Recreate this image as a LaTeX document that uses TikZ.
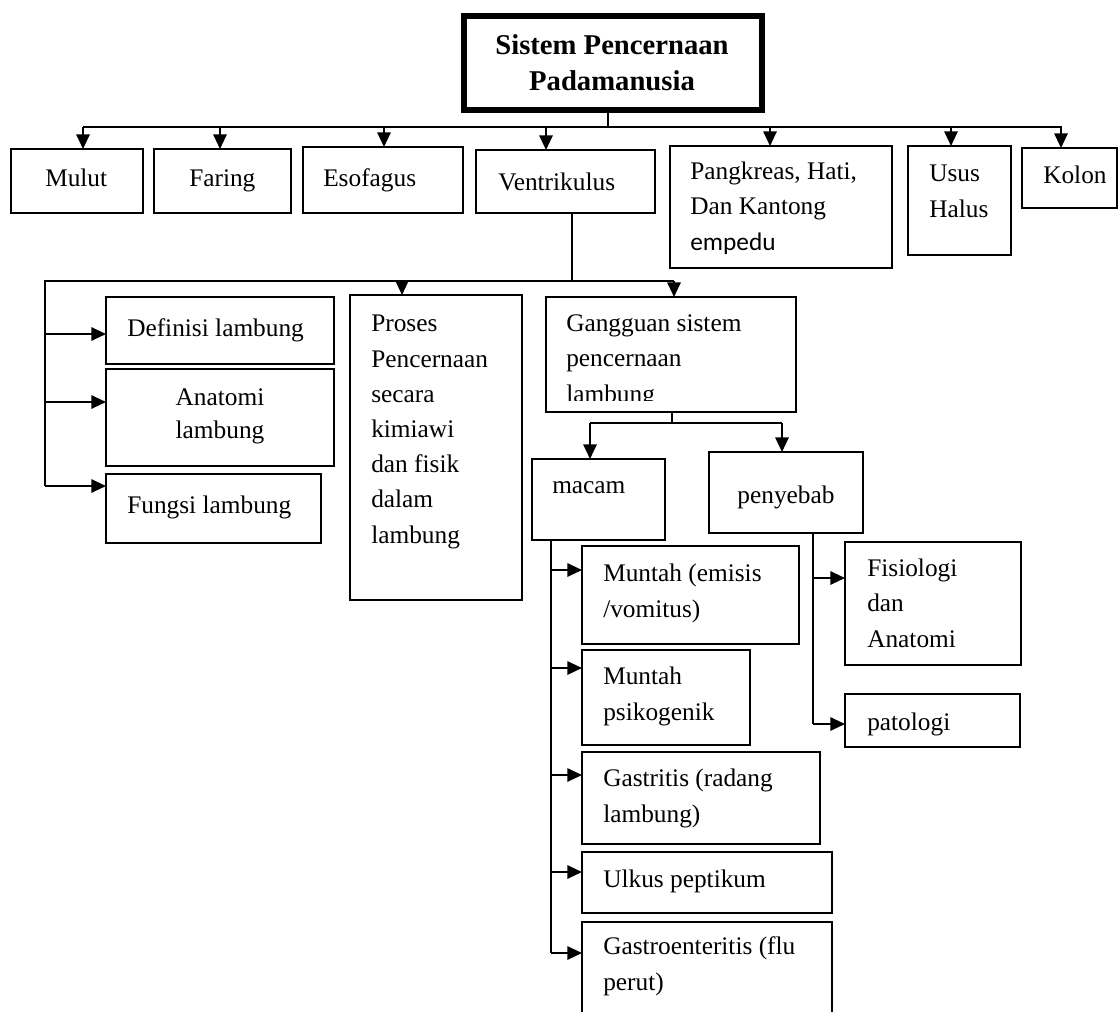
\documentclass[tikz,border=0pt]{standalone}
\usepackage{fontspec}
\setmainfont{Liberation Serif}
\newfontfamily\calibri{Carlito}
\usetikzlibrary{arrows.meta,positioning,calc}
\tikzset{
  kotak/.style={draw,line width=1.5pt,rectangle,inner sep=0pt,outer sep=0pt,anchor=north west},
  kotakjudul/.style={kotak,line width=4.5pt},
  tulis/.style={anchor=base west,inner sep=0pt,align=left,font=\fontsize{19}{26.4}\selectfont},
  panah/.style={-{Triangle[length=11pt,width=10pt]},line width=1.5pt},
  garis/.style={line width=1.5pt},
  tangkai/.style={line width=1pt},
}

\begin{document}
\begin{tikzpicture}[x=0.75pt,y=-0.75pt]
  \useasboundingbox (0,0) rectangle (1120,1011);
  \clip (0,0) rectangle (1120,1011);
  % kotak-kotak
  \node[kotakjudul,minimum width={298*0.75pt},minimum height={94*0.75pt}] (judul) at (464,16) {};
  \foreach \nama/\xa/\ya/\xb/\yb in {mulut/11/149/143/213, faring/154/149/291/213,
      esofagus/303/147/463/213, ventrikulus/476/150/655/213, pangkreas/670/146/892/268,
      usus/908/146/1011/255, kolon/1022/148/1117/208,
      definisi/106/297/334/364, anatomi/106/369/334/466, fungsi/106/474/321/543,
      proses/350/295/522/600, gangguan/546/297/796/412,
      macam/532/459/665/540, penyebab/709/452/863/533,
      muntah/582/546/799/644, psiko/582/650/750/745, gastritis/582/752/820/844,
      ulkus/582/852/832/913, gastro/582/922/832/1030,
      fisiologi/845/542/1021/665, patologi/845/694/1020/747} {
    \node[kotak,minimum width={(\xb-\xa)*0.75pt},minimum height={(\yb-\ya)*0.75pt}] (\nama) at (\xa,\ya) {};
  }
  % tulisan (titik = garis dasar baris terakhir)
  \node[tulis,anchor=base,align=center,font=\bfseries\fontsize{21.5}{26.3}\selectfont] (judul-t) at (612,90) {Sistem Pencernaan\\Padamanusia};
  \foreach \nama/\x/\y/\isi in {mulut/45/186/{Mulut}, faring/189/186/{Faring},
      esofagus/323/186/{Esofagus}, ventrikulus/498/190/{Ventrikulus},
      pangkreas/690/250/{Pangkreas, Hati,\\Dan Kantong\\{\calibri empedu}},
      usus/929/217/{Usus\\Halus}, kolon/1043/183/{Kolon},
      definisi/127/336/{Definisi lambung}, fungsi/127/513/{Fungsi lambung},
      proses/371/543/{Proses\\Pencernaan\\secara\\kimiawi\\dan fisik\\dalam\\lambung},
      macam/552/493/{macam},
      muntah/603/617/{Muntah (emisis\\/vomitus)}, psiko/603/720/{Muntah\\psikogenik},
      gastritis/603/822/{Gastritis (radang\\lambung)}, ulkus/603/887/{Ulkus peptikum},
      gastro/603/990/{Gastroenteritis (flu\\perut)},
      fisiologi/867/647/{Fisiologi\\dan\\Anatomi}, patologi/867/730/{patologi}} {
    \node[tulis] (\nama-t) at (\x,\y) {\isi};
  }
  \node[tulis,anchor=base,align=center] (anatomi-t) at (220,438) {Anatomi\\[-2.2pt]lambung};
  \node[tulis,anchor=base] (penyebab-t) at (786,503) {penyebab};
  \begin{scope}
    \clip (gangguan.north west) rectangle ([yshift=9pt]gangguan.south east);
    \node[tulis] (gangguan-t) at (566,402) {Gangguan sistem\\pencernaan\\lambung};
  \end{scope}
  % tingkat pertama
  \draw[tangkai] (judul.south -| 608,0) -- (608,127);
  \draw[garis] (83,127) -- (1062,127);
  \foreach \b/\x in {mulut/83, faring/220, esofagus/384, ventrikulus/546,
      pangkreas/770, usus/951, kolon/1061}
    \draw[panah] (\x,127) -- (\b.north -| \x,0);
  % ventrikulus
  \draw[tangkai] (ventrikulus.south -| 572,0) -- (572,281);
  \draw[garis] (45,486) -- (45,281) -- (674,281);
  \foreach \b/\y in {definisi/334, anatomi/402, fungsi/486}
    \draw[panah] (45,\y) -- (\b.west |- 0,\y);
  \draw[panah] (402,281) -- (proses.north -| 402,0);
  \draw[panah] (674,281) -- (gangguan.north -| 674,0);
  % gangguan
  \draw[tangkai] (gangguan.south -| 672,0) -- (672,423);
  \draw[garis] (590,423) -- (782,423);
  \draw[panah] (590,423) -- (macam.north -| 590,0);
  \draw[panah] (782,423) -- (penyebab.north -| 782,0);
  \draw[garis] (macam.south -| 551,0) -- (551,953);
  \foreach \b/\y in {muntah/570, psiko/668, gastritis/775, ulkus/872, gastro/953}
    \draw[panah] (551,\y) -- (\b.west |- 0,\y);
  \draw[tangkai] (penyebab.south -| 813,0) -- (813,724);
  \foreach \b/\y in {fisiologi/578, patologi/724}
    \draw[panah] (813,\y) -- (\b.west |- 0,\y);
\end{tikzpicture}
\end{document}
